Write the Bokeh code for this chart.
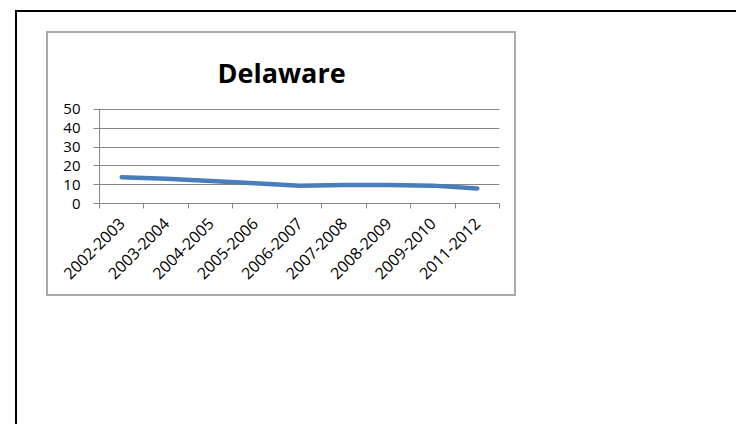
import numpy as np
from bokeh.plotting import figure
from bokeh.models import FixedTicker, Range1d
from bokeh.layouts import column
from bokeh.embed import file_html
from bokeh.resources import INLINE

# ---- data ----
categories = ["2002-2003", "2003-2004", "2004-2005", "2005-2006", "2006-2007",
              "2007-2008", "2008-2009", "2009-2010", "2011-2012"]
values = [14.0, 13.1, 12.0, 10.7, 9.4, 9.8, 9.8, 9.5, 8.0]
y_ticks = [0, 10, 20, 30, 40, 50]
title_text = "Delaware"

n = len(categories)
centers = [i + 0.5 for i in range(n)]
bounds = list(range(n + 1))

GRID = "#868686"
FONT = "Open Sans"

p = figure(width=470, height=265,
           x_range=Range1d(0, n), y_range=Range1d(y_ticks[0], y_ticks[-1] + 0.5),
           output_backend="svg", toolbar_location=None,
           min_border_left=51, min_border_right=19,
           min_border_top=75, min_border_bottom=95,
           background_fill_color="white", border_fill_color="white",
           outline_line_color=None)

xa = p.below[0]
ya = p.left[0]

p.title.text = title_text
p.title.text_font = FONT
p.title.text_font_size = "27px"
p.title.text_font_style = "bold"
p.title.text_color = "black"
p.title.align = "left"
p.title.vertical_align = "bottom"
p.title.offset = 118
p.title.standoff = 35

p.line(x=centers, y=values, line_color="#4a7ebb", line_width=4.5,
       line_cap="round", line_join="round")

# x axis: labels at category centres, ticks at category boundaries
xa.ticker = FixedTicker(ticks=centers, minor_ticks=bounds)
xa.major_label_overrides = {c: cat for c, cat in zip(centers, categories)}
xa.major_label_orientation = np.pi / 4
xa.major_tick_line_color = None
xa.major_tick_out = 5
xa.major_tick_in = 0
xa.minor_tick_line_color = GRID
xa.minor_tick_out = 5
xa.minor_tick_in = 0
xa.axis_line_color = GRID
xa.major_label_text_font = FONT
xa.major_label_text_font_size = "16px"
xa.major_label_text_color = "black"
xa.major_label_standoff = 12

ya.ticker = FixedTicker(ticks=y_ticks, minor_ticks=[])
ya.major_tick_out = 6
ya.major_tick_in = 0
ya.major_tick_line_color = GRID
ya.minor_tick_line_color = None
ya.axis_line_color = GRID
ya.major_label_text_font = FONT
ya.major_label_text_font_size = "15px"
ya.major_label_text_color = "black"
ya.major_label_standoff = 13

p.xgrid.grid_line_color = None
p.ygrid.ticker = FixedTicker(ticks=y_ticks)
p.ygrid.grid_line_color = GRID

p.margin = (19, 0, 0, 29)
p.styles = {"border": "2px solid #ababab"}

outer = column(p, width=721, height=414, margin=(10, 0, 0, 15),
               styles={"border-top": "2px solid black",
                       "border-left": "2px solid black"})

open("out.html", "w").write(file_html(outer, INLINE))
